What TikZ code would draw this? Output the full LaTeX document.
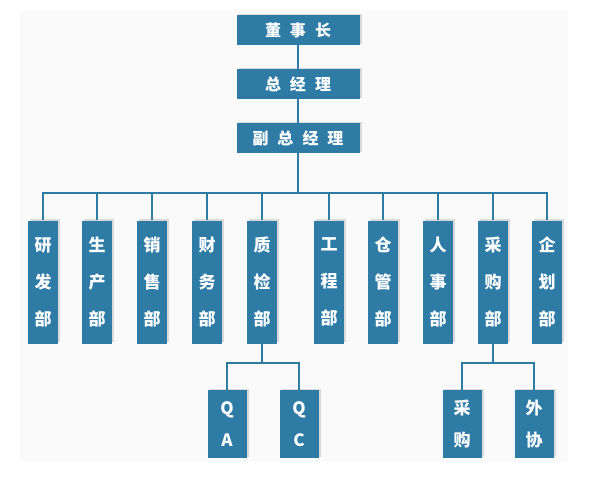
\documentclass[tikz,border=0pt]{standalone}
\usepackage{fontspec}
\newfontfamily\cjk{Noto Sans CJK SC}
\usetikzlibrary{positioning}
\definecolor{boxblue}{RGB}{46,123,166}
\definecolor{panel}{RGB}{250,250,250}
\tikzset{
	unit/.style={fill=boxblue, text=white, inner sep=0pt, align=center,
		font=\cjk\bfseries\fontsize{16}{18}\selectfont},
	head/.style={unit, minimum width=123pt, minimum height=30pt},
	dept/.style={unit, minimum width=30pt, minimum height=123pt,
		font=\cjk\bfseries\fontsize{17}{37}\selectfont},
	sub/.style={unit, minimum width=39pt, minimum height=68pt,
		font=\cjk\bfseries\fontsize{17}{32}\selectfont},
	shade/.style={preaction={fill=gray!30, transform canvas={xshift=2pt, yshift=1.5pt}}},
	link/.style={draw=boxblue, line width=1.1pt}
}
\newcommand{\gap}{\hspace{9pt}}
\begin{document}
\begin{tikzpicture}[x=1pt, y=-1pt]
	\useasboundingbox (0,0) rectangle (600,490);
	\fill[panel] (20,10) rectangle (568,462);
	% top of the chart
	\node[head, shade] (chair) at (298,30) {董\gap 事\gap 长};
	\node[head, shade] (gm) at (298,84) {总\gap 经\gap 理};
	\node[head, shade] (vgm) at (298,138) {副\gap 总\gap 经\gap 理};
	\coordinate (bus) at (298,193);
	\draw[link] (chair) -- (gm);
	\draw[link] (gm) -- (vgm);
	\draw[link] (vgm) -- (bus);
	% departments
	\foreach \name/\x/\txt in {rd/43/研\\发\\部, prod/97/生\\产\\部, sales/152/销\\售\\部,
		fin/207/财\\务\\部, qual/262/质\\检\\部, eng/329/工\\程\\部,
		store/383/仓\\管\\部, hr/438/人\\事\\部, buy/493/采\\购\\部, plan/547/企\\划\\部}
	{
		\node[dept, shade] (\name) at (\x,282) {\txt};
		\draw[link] (\name.north) |- (bus);
	}
	% sub units
	\node[sub, shade] (qa) at (227,424) {Q\\A};
	\node[sub, shade] (qc) at (299,424) {Q\\C};
	\node[sub, shade] (purch) at (462,424) {采\\购};
	\node[sub, shade] (outs) at (534,424) {外\\协};
	\coordinate (qbus) at (262,363);
	\coordinate (bbus) at (493,363);
	\draw[link] (qual.south) -- (qbus);
	\draw[link] (qa.north) |- (qbus);
	\draw[link] (qc.north) |- (qbus);
	\draw[link] (buy.south) -- (bbus);
	\draw[link] (purch.north) |- (bbus);
	\draw[link] (outs.north) |- (bbus);
\end{tikzpicture}
\end{document}
